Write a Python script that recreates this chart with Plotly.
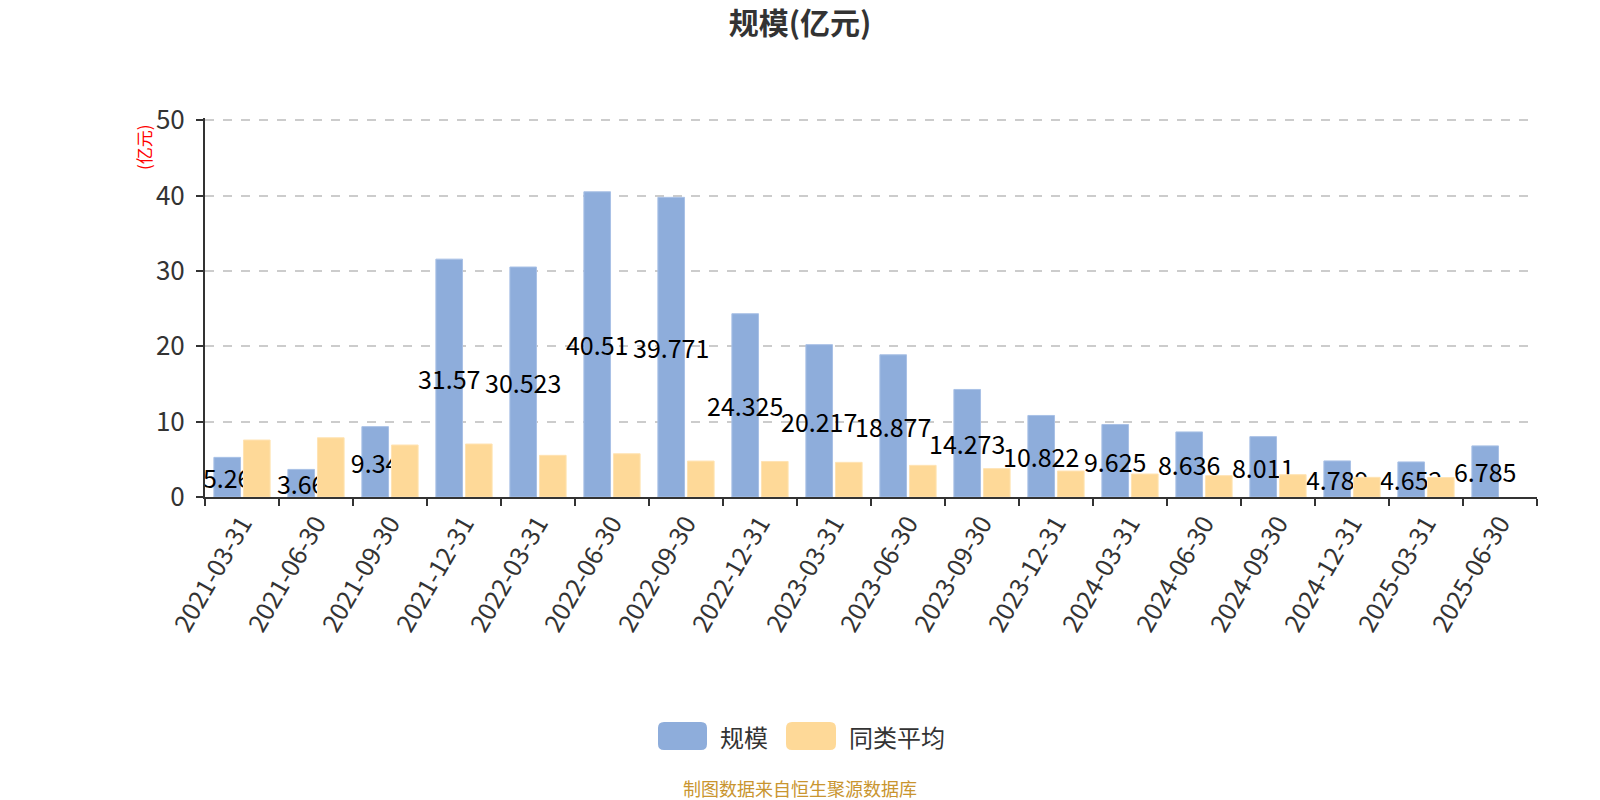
import re
import plotly.graph_objects as go

dates = ["2021-03-31", "2021-06-30", "2021-09-30", "2021-12-31", "2022-03-31", "2022-06-30",
         "2022-09-30", "2022-12-31", "2023-03-31", "2023-06-30", "2023-09-30", "2023-12-31",
         "2024-03-31", "2024-06-30", "2024-09-30", "2024-12-31", "2025-03-31", "2025-06-30"]
scale = [5.26, 3.66, 9.34, 31.57, 30.523, 40.51, 39.771, 24.325, 20.217, 18.877, 14.273,
         10.822, 9.625, 8.636, 8.011, 4.789, 4.652, 6.785]
peer_avg = [7.56, 7.86, 6.9, 7.03, 5.53, 5.74, 4.77, 4.72, 4.6, 4.2, 3.76, 3.45, 3.05,
            2.83, 2.96, 2.61, 2.58, None]
scale_labels = [f"{v:g}" for v in scale]
series_names = ["规模", "同类平均"]
series_colors = ["#8eaddb", "#fed998"]
y_ticks = [0, 10, 20, 30, 40, 50]

FONT = "Noto Sans CJK SC, Noto Sans, sans-serif"
W, H = 1600, 800
ML, MR, MT, MB = 205, 63, 118, 303

fig = go.Figure()
fig.add_trace(go.Bar(
    name=series_names[0], x=dates, y=scale,
    marker=dict(color=series_colors[0], line=dict(color="#a9c1e6", width=1)),
    text=scale_labels, textposition="inside", insidetextanchor="middle",
    textangle=0, constraintext="none",
    textfont=dict(color="#000000", size=25, family=FONT),
    hoverinfo="x+y",
))
fig.add_trace(go.Bar(
    name=series_names[1], x=dates, y=peer_avg,
    marker=dict(color=series_colors[1], line=dict(color="#ffe3b3", width=1)),
    hoverinfo="x+y",
))

fig.update_layout(
    width=W, height=H,
    paper_bgcolor="white", plot_bgcolor="white",
    margin=dict(l=ML, r=MR, t=MT, b=MB, autoexpand=False),
    barmode="group", bargap=0.2, bargroupgap=0.1,
    font=dict(family=FONT, color="#333333"),
    title=dict(text="<b>规模(亿元)</b>", x=0.5, xanchor="center", y=1 - 23 / H, yanchor="middle",
               font=dict(size=30, color="#333333", family=FONT)),
    showlegend=False,
)

fig.update_xaxes(
    type="category", tickson="boundaries", tickangle=-60,
    showline=True, linecolor="#333333", linewidth=2,
    ticks="outside", ticklen=7, tickwidth=2, tickcolor="#333333",
    tickfont=dict(size=25, color="#333333", family=FONT),
    showgrid=False, zeroline=False,
)
fig.update_yaxes(
    range=[0, 50.3], tickvals=y_ticks,
    showline=True, linecolor="#333333", linewidth=2,
    ticks="outside", ticklen=7, tickwidth=2, tickcolor="#333333",
    tickfont=dict(size=26, color="#333333", family=FONT),
    ticklabelstandoff=6,
    showgrid=True, gridcolor="#cccccc", griddash="dash", gridwidth=1.5,
    zeroline=False,
)

plot_h = H - MT - MB
plot_w = W - ML - MR

def py(pix):
    """pixel row -> paper y"""
    return (H - MB - pix) / plot_h

def px(pix):
    """pixel column -> paper x"""
    return (pix - ML) / plot_w

fig.add_annotation(
    text="(亿元)", textangle=-90, xref="paper", yref="paper",
    x=px(143), y=py(122), xanchor="center", yanchor="top", showarrow=False,
    font=dict(size=17, color="#ff0000", family=FONT),
)

# legend (rounded swatches like the reference)
legend_items = [(658, 707, 718), (786, 836, 847)]
for (x0, x1, tx), name, col in zip(legend_items, series_names, series_colors):
    y0, y1, r = 722, 750, 6
    path = (f"M {x0 + r},{y0} L {x1 - r},{y0} Q {x1},{y0} {x1},{y0 + r} "
            f"L {x1},{y1 - r} Q {x1},{y1} {x1 - r},{y1} L {x0 + r},{y1} "
            f"Q {x0},{y1} {x0},{y1 - r} L {x0},{y0 + r} Q {x0},{y0} {x0 + r},{y0} Z")

    def conv(m):
        a, b = float(m.group(1)), float(m.group(2))
        return f"{px(a):.5f},{py(b):.5f}"
    ppath = re.sub(r"([\d.]+),([\d.]+)", conv, path)
    fig.add_shape(type="path", path=ppath, xref="paper", yref="paper",
                  fillcolor=col, line=dict(width=0), layer="above")
    fig.add_annotation(text=name, xref="paper", yref="paper", x=px(tx), y=py(736),
                       xanchor="left", yanchor="middle", showarrow=False,
                       font=dict(size=24, color="#333333", family=FONT))

fig.add_annotation(
    text="制图数据来自恒生聚源数据库", xref="paper", yref="paper",
    x=px(W / 2), y=py(788), xanchor="center", yanchor="middle", showarrow=False,
    font=dict(size=18, color="#c9952f", family=FONT),
)

fig.write_html("out.html", config={"displayModeBar": False},
               post_script="document.body.style.margin='0';document.body.style.padding='0';")
